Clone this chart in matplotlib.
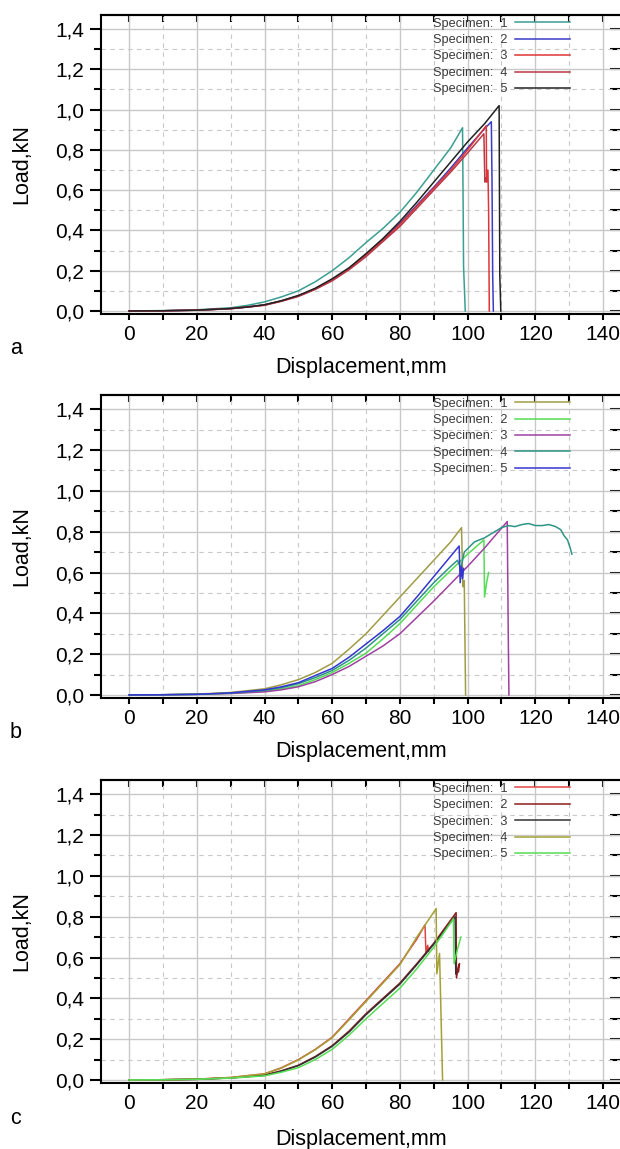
import numpy as np
import matplotlib
matplotlib.use("Agg")
import matplotlib.pyplot as plt
from matplotlib.ticker import MultipleLocator, FuncFormatter

plt.rcParams['font.family'] = ['Liberation Sans', 'DejaVu Sans']

# ---- panel a ----
a_x1 = [0, 10, 20, 30, 35, 40, 45, 50, 55, 60, 65, 70, 75, 80, 85, 90, 95, 98.5, 98.8, 99.3]
a_y1 = [0, 0.002, 0.006, 0.016, 0.028, 0.045, 0.07, 0.10, 0.145, 0.20, 0.265, 0.34, 0.41, 0.49, 0.59, 0.70, 0.81, 0.91, 0.22, 0.0]
a_x2 = [0, 10, 20, 30, 35, 40, 45, 50, 55, 60, 65, 70, 75, 80, 85, 90, 95, 100, 105, 107.0, 107.2, 107.4, 107.6]
a_y2 = [0, 0.001, 0.004, 0.012, 0.02, 0.03, 0.05, 0.075, 0.11, 0.155, 0.21, 0.28, 0.355, 0.435, 0.525, 0.615, 0.71, 0.81, 0.905, 0.94, 0.65, 0.18, 0.0]
a_x3 = [0, 10, 20, 30, 35, 40, 45, 50, 55, 60, 65, 70, 75, 80, 85, 90, 95, 100, 105.5, 105.6, 106.0, 106.2, 106.4]
a_y3 = [0, 0.001, 0.004, 0.012, 0.02, 0.03, 0.05, 0.075, 0.11, 0.155, 0.21, 0.28, 0.35, 0.43, 0.52, 0.61, 0.70, 0.80, 0.92, 0.64, 0.70, 0.50, 0.0]
a_x4 = [0, 10, 20, 30, 35, 40, 45, 50, 55, 60, 65, 70, 75, 80, 85, 90, 95, 100, 104.8, 105.1, 105.4]
a_y4 = [0, 0.001, 0.004, 0.011, 0.019, 0.028, 0.048, 0.072, 0.107, 0.15, 0.205, 0.27, 0.345, 0.42, 0.51, 0.60, 0.69, 0.785, 0.88, 0.64, 0.66]
a_x5 = [0, 10, 20, 30, 35, 40, 45, 50, 55, 60, 65, 70, 75, 80, 85, 90, 95, 100, 105, 109.3, 109.5, 109.8]
a_y5 = [0, 0.001, 0.004, 0.012, 0.02, 0.031, 0.051, 0.077, 0.113, 0.16, 0.215, 0.285, 0.36, 0.445, 0.54, 0.64, 0.74, 0.84, 0.93, 1.02, 0.18, 0.0]

# ---- panel b ----
b_x1 = [0, 10, 20, 30, 40, 45, 50, 55, 60, 65, 70, 75, 80, 85, 90, 95, 98.2, 98.6, 99.0, 99.4]
b_y1 = [0, 0.001, 0.004, 0.012, 0.03, 0.05, 0.075, 0.11, 0.155, 0.225, 0.30, 0.39, 0.48, 0.57, 0.66, 0.75, 0.82, 0.53, 0.56, 0.0]
b_x2 = [0, 10, 20, 30, 40, 45, 50, 55, 60, 65, 70, 75, 80, 85, 90, 95, 100, 104.8, 105.0, 105.6, 106.2]
b_y2 = [0, 0.001, 0.003, 0.008, 0.018, 0.03, 0.045, 0.075, 0.11, 0.155, 0.205, 0.275, 0.35, 0.44, 0.53, 0.61, 0.69, 0.76, 0.48, 0.55, 0.60]
b_x3 = [0, 10, 20, 30, 40, 45, 50, 55, 60, 65, 70, 75, 80, 85, 90, 95, 100, 105, 111.7, 112.0, 112.2]
b_y3 = [0, 0.001, 0.003, 0.007, 0.015, 0.025, 0.04, 0.065, 0.10, 0.14, 0.19, 0.24, 0.30, 0.38, 0.46, 0.545, 0.63, 0.72, 0.85, 0.30, 0.0]
b_x4 = [0, 10, 20, 30, 40, 45, 50, 55, 60, 65, 70, 75, 80, 85, 90, 95, 97, 98, 99, 102, 105, 108, 110, 112,
        114, 116, 118, 120, 122, 124, 126, 127.5, 128.5, 129.5, 130.3, 130.8]
b_y4 = [0, 0.001, 0.003, 0.009, 0.022, 0.036, 0.055, 0.085, 0.12, 0.17, 0.23, 0.30, 0.37, 0.46, 0.55, 0.63, 0.66, 0.62, 0.70, 0.75, 0.77, 0.80, 0.82, 0.83,
        0.825, 0.835, 0.84, 0.83, 0.83, 0.835, 0.825, 0.81, 0.78, 0.76, 0.72, 0.69]
b_x5 = [0, 10, 20, 30, 40, 45, 50, 55, 60, 65, 70, 75, 80, 85, 90, 95, 97.5, 97.8, 98.2, 98.5, 98.8]
b_y5 = [0, 0.001, 0.003, 0.01, 0.025, 0.04, 0.06, 0.095, 0.13, 0.185, 0.25, 0.315, 0.385, 0.48, 0.58, 0.68, 0.73, 0.55, 0.63, 0.57, 0.62]

# ---- panel c ----
c_x1 = [0, 10, 20, 30, 40, 45, 50, 55, 60, 65, 70, 75, 80, 85, 87.4, 87.7, 88.2, 88.5]
c_y1 = [0, 0.001, 0.004, 0.012, 0.03, 0.06, 0.10, 0.15, 0.21, 0.30, 0.39, 0.48, 0.57, 0.69, 0.76, 0.62, 0.66, 0.63]
c_x2 = [0, 10, 20, 30, 40, 45, 50, 55, 60, 65, 70, 75, 80, 85, 90, 96.6, 96.7, 97.2, 97.6, 97.3]
c_y2 = [0, 0.001, 0.003, 0.01, 0.024, 0.045, 0.072, 0.115, 0.168, 0.24, 0.325, 0.40, 0.475, 0.57, 0.67, 0.82, 0.50, 0.55, 0.57, 0.53]
c_x3 = [0, 10, 20, 30, 40, 45, 50, 55, 60, 65, 70, 75, 80, 85, 90, 96.3, 96.5]
c_y3 = [0, 0.001, 0.003, 0.01, 0.022, 0.043, 0.07, 0.112, 0.165, 0.235, 0.32, 0.395, 0.47, 0.565, 0.665, 0.80, 0.52]
c_x4 = [0, 10, 20, 30, 40, 45, 50, 55, 60, 65, 70, 75, 80, 85, 90.7, 90.9, 91.7, 92.6]
c_y4 = [0, 0.001, 0.004, 0.012, 0.03, 0.058, 0.098, 0.148, 0.207, 0.295, 0.385, 0.475, 0.565, 0.70, 0.84, 0.52, 0.62, 0.0]
c_x5 = [0, 10, 20, 30, 40, 45, 50, 55, 60, 65, 70, 75, 80, 85, 90, 95.8, 96.0, 97.0, 98.0]
c_y5 = [0, 0.001, 0.003, 0.009, 0.02, 0.038, 0.06, 0.1, 0.15, 0.22, 0.30, 0.375, 0.45, 0.545, 0.65, 0.79, 0.57, 0.64, 0.70]

labels = ["Specimen:  1", "Specimen:  2", "Specimen:  3", "Specimen:  4", "Specimen:  5"]
panel_letters = ["a", "b", "c"]

panels = [
    ([a_x1, a_x2, a_x3, a_x4, a_x5], [a_y1, a_y2, a_y3, a_y4, a_y5],
     ["#3a9e92", "#3a3ac8", "#e03535", "#b83848", "#222222"]),
    ([b_x1, b_x2, b_x3, b_x4, b_x5], [b_y1, b_y2, b_y3, b_y4, b_y5],
     ["#a09c45", "#55dd55", "#a040a0", "#2e9486", "#3535d0"]),
    ([c_x1, c_x2, c_x3, c_x4, c_x5], [c_y1, c_y2, c_y3, c_y4, c_y5],
     ["#e04545", "#8e1c1c", "#333333", "#a4a035", "#55dd55"]),
]

W, H = 620, 1149
fig = plt.figure(figsize=(W / 100, H / 100), dpi=100)

# axes boxes in pixels: left, top spine, bottom spine, xlabel centre
boxes = [(101, 15, 314, 367), (101, 395, 698, 752), (101, 780, 1083, 1139)]
right_px = 622

comma = FuncFormatter(lambda v, p: ("%.1f" % v).replace(".", ","))

for (xs, ys, cols), (l, t, b, xl), letter in zip(panels, boxes, panel_letters):
    ax = fig.add_axes([l / W, (H - b) / H, (right_px - l) / W, (b - t) / H])
    for x, y, c, lab in zip(xs, ys, cols, labels):
        ax.plot(x, y, color=c, lw=1.1, label=lab)

    ax.set_xlim(-8.3, 145.6)
    ax.set_ylim(-0.015, 1.47)
    ax.xaxis.set_major_locator(MultipleLocator(20))
    ax.xaxis.set_minor_locator(MultipleLocator(10))
    ax.yaxis.set_major_locator(MultipleLocator(0.2))
    ax.yaxis.set_minor_locator(MultipleLocator(0.1))
    ax.yaxis.set_major_formatter(comma)

    ax.grid(which="major", color="#c8c8c8", lw=1.0, ls="-")
    ax.grid(which="minor", color="#c8c8c8", lw=0.8, ls=(0, (4, 4)))
    ax.set_axisbelow(True)

    for s in ax.spines.values():
        s.set_linewidth(1.5)
        s.set_color("black")

    ax.tick_params(axis="y", which="major", direction="out", length=8, width=1.5,
                   labelsize=15, pad=4, right=False)
    ax.tick_params(axis="y", which="minor", direction="out", length=5, width=1.5, right=False)
    ax.tick_params(axis="x", which="both", direction="out", length=4, width=1.5,
                   labelsize=15, pad=4, top=False)

    top = ax.secondary_xaxis("top")
    top.xaxis.set_major_locator(MultipleLocator(10))
    top.tick_params(direction="in", length=5, width=1.5, labeltop=False)
    top.spines["top"].set_linewidth(1.5)
    rgt = ax.secondary_yaxis("right")
    rgt.yaxis.set_major_locator(MultipleLocator(0.1))
    rgt.tick_params(direction="in", length=9, width=1.5, labelright=False)
    rgt.spines["right"].set_linewidth(1.5)

    ax.set_xlabel("Displacement,mm", fontsize=15.5)
    ax.xaxis.set_label_coords(0.5, -(xl - b) / (b - t))
    ax.xaxis.label.set_va("center")
    ax.set_ylabel("Load,kN", fontsize=15.5)
    ax.yaxis.set_label_coords(-(l - 22) / (right_px - l), 0.5)
    ax.yaxis.label.set_va("center")

    leg = ax.legend(loc="upper right", bbox_to_anchor=(0.905, 1.0), frameon=False,
                    markerfirst=False, fontsize=9.2, handlelength=4.3, handletextpad=0.6,
                    labelspacing=0.35, borderpad=0.2, borderaxespad=0)
    for txt in leg.get_texts():
        txt.set_color("#3a3a3a")

    fig.text(10 / W, 1 - (b + 35) / H, letter, fontsize=15.5, va="center", ha="left")

fig.savefig("out.png", dpi=100)
